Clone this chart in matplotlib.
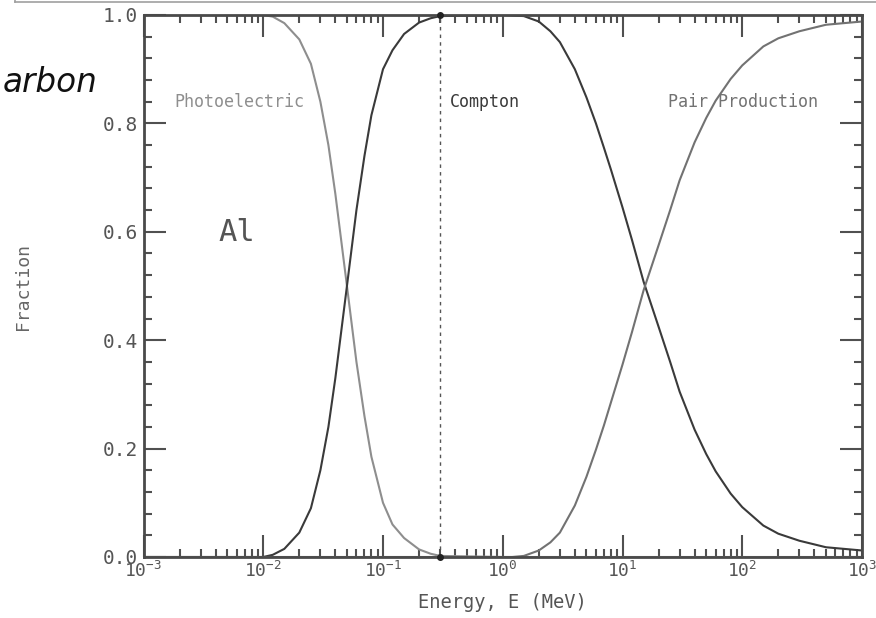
"""Fraction of photon interactions in aluminium vs. energy (photoelectric / Compton / pair)."""

from __future__ import annotations

import matplotlib

matplotlib.use("Agg")
import matplotlib.pyplot as plt
from matplotlib.lines import Line2D
from matplotlib.ticker import FormatStrFormatter, LogLocator, MultipleLocator

# values (energy in MeV, fraction 0..1)
PHOTO_E = [0.001, 0.01, 0.012, 0.015, 0.02, 0.025, 0.03, 0.035, 0.04, 0.05, 0.06, 0.07, 0.08,
           0.1, 0.12, 0.15, 0.2, 0.25, 0.3, 1.0, 10.0, 1000.0]
PHOTO_F = [1.0, 1.0, 0.997, 0.985, 0.955, 0.91, 0.84, 0.76, 0.67, 0.50, 0.36, 0.26, 0.185,
           0.10, 0.06, 0.035, 0.014, 0.006, 0.002, 0.0, 0.0, 0.0]

COMPTON_E = [0.001, 0.01, 0.012, 0.015, 0.02, 0.025, 0.03, 0.035, 0.04, 0.05, 0.06, 0.07, 0.08,
             0.1, 0.12, 0.15, 0.2, 0.25, 0.3, 1.0, 1.5, 2.0, 2.5, 3.0, 4.0, 5.0, 6.0, 7.0, 8.0,
             10.0, 12.0, 15.0, 20.0, 25.0, 30.0, 40.0, 50.0, 60.0, 80.0, 100.0, 150.0, 200.0,
             300.0, 500.0, 1000.0]
COMPTON_F = [0.0, 0.0, 0.004, 0.015, 0.045, 0.09, 0.16, 0.24, 0.33, 0.50, 0.64, 0.74, 0.815,
             0.90, 0.935, 0.965, 0.986, 0.994, 0.998, 1.0, 0.998, 0.988, 0.97, 0.95, 0.90, 0.848,
             0.80, 0.755, 0.715, 0.645, 0.585, 0.508, 0.425, 0.36, 0.305, 0.235, 0.19, 0.158,
             0.117, 0.092, 0.058, 0.043, 0.03, 0.018, 0.012]

PAIR_E = [0.001, 1.0, 1.2, 1.5, 2.0, 2.5, 3.0, 4.0, 5.0, 6.0, 7.0, 8.0, 10.0, 12.0, 15.0, 20.0,
          25.0, 30.0, 40.0, 50.0, 60.0, 80.0, 100.0, 150.0, 200.0, 300.0, 500.0, 1000.0]
PAIR_F = [0.0, 0.0, 0.0, 0.002, 0.012, 0.027, 0.045, 0.095, 0.148, 0.198, 0.243, 0.285, 0.355,
          0.415, 0.492, 0.575, 0.64, 0.695, 0.765, 0.81, 0.842, 0.882, 0.907, 0.942, 0.957, 0.97,
          0.982, 0.988]

MARK_E = [0.3, 0.3]
MARK_F = [0.0, 1.0]

LABELS = ("Photoelectric", "Compton", "Pair Production")
COLORS = {"Photoelectric": "#8e8e8e", "Compton": "#3a3a3a", "Pair Production": "#727272"}

plt.rcParams.update(
    {
        "font.family": ["DejaVu Sans Mono", "DejaVu Sans"],
        "axes.unicode_minus": False,
        "text.color": "#555555",
        "xtick.color": "#505050",
        "ytick.color": "#505050",
        "xtick.labelcolor": "#555555",
        "ytick.labelcolor": "#555555",
    }
)


def main() -> None:
    fig = plt.figure(figsize=(8.76, 6.18), dpi=100)
    ax = fig.add_axes([143.5 / 876, 1 - 557 / 618, (862 - 143.5) / 876, (557 - 15) / 618])

    ax.plot(PHOTO_E, PHOTO_F, color=COLORS["Photoelectric"], lw=1.5, solid_joinstyle="round")
    ax.plot(COMPTON_E, COMPTON_F, color=COLORS["Compton"], lw=1.5, solid_joinstyle="round")
    ax.plot(PAIR_E, PAIR_F, color=COLORS["Pair Production"], lw=1.5, solid_joinstyle="round")

    # boundary marker at 0.3 MeV
    ax.plot(MARK_E, MARK_F, color="#555555", lw=1.0, linestyle=(0, (2.5, 3)))
    ax.plot(MARK_E, MARK_F, "o", color="#222222", ms=4, clip_on=False, zorder=5)

    ax.set_xscale("log")
    ax.set_xlim(1e-3, 1e3)
    ax.set_ylim(0, 1)
    ax.xaxis.set_major_locator(LogLocator(base=10, numticks=10))
    ax.xaxis.set_minor_locator(LogLocator(base=10, subs=range(2, 10), numticks=100))
    ax.yaxis.set_major_locator(MultipleLocator(0.2))
    ax.yaxis.set_minor_locator(MultipleLocator(0.04))
    ax.yaxis.set_major_formatter(FormatStrFormatter("%.1f"))

    ax.tick_params(which="both", direction="in", top=True, right=True, width=1.5)
    ax.tick_params(which="major", length=16)
    ax.tick_params(which="minor", length=6)
    ax.tick_params(axis="x", which="major", pad=3, labelsize=13)
    ax.tick_params(axis="y", which="major", pad=4, labelsize=14)
    for spine in ax.spines.values():
        spine.set_color("#4a4a4a")
        spine.set_linewidth(2)

    ax.set_xlabel("Energy, E (MeV)", fontsize=13.5, color="#555555")
    ax.xaxis.set_label_coords(0.5, -0.066)
    ax.set_ylabel("Fraction", fontsize=13, color="#666666")
    ax.yaxis.set_label_coords(-0.155, 0.5)

    text_pos = {"Photoelectric": (0.0018, 0.84), "Compton": (0.36, 0.84), "Pair Production": (24, 0.84)}
    for label in LABELS:
        x, y = text_pos[label]
        ax.text(x, y, label, fontsize=12, color=COLORS[label], va="center", ha="left")
    ax.text(0.0042, 0.598, "Al", fontsize=22, color="#555555", va="center", ha="left")

    fig.text(97 / 876, 1 - 92 / 618, "arbon", fontsize=23.5, style="italic",
             family="DejaVu Sans", color="#111111", ha="right", va="baseline")
    fig.add_artist(Line2D([15 / 876, 1], [1 - 2 / 618] * 2, transform=fig.transFigure,
                          color="#a0a0a0", lw=1.2))
    fig.add_artist(Line2D([15 / 876] * 2, [1 - 2 / 618, 1], transform=fig.transFigure,
                          color="#a0a0a0", lw=1.2))

    fig.savefig("out.png", dpi=100)


if __name__ == "__main__":
    main()
